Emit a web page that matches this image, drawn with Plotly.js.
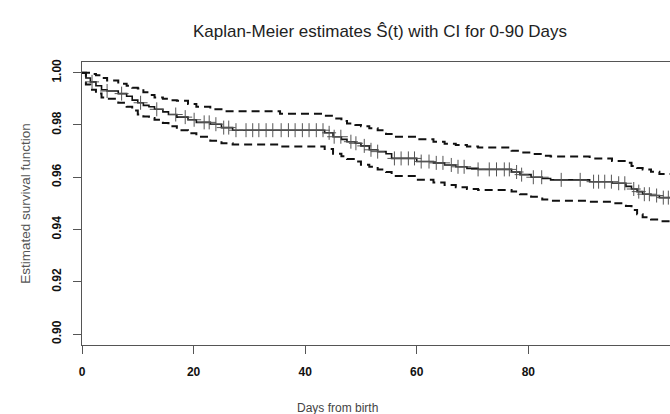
<!DOCTYPE html>
<html>
<head>
<meta charset="utf-8">
<script src="https://cdn.plot.ly/plotly-3.0.1.min.js"></script>
<style>html,body{margin:0;padding:0;background:#fff;}#chart{width:670px;height:414px;}</style>
</head>
<body>
<div id="chart"></div>
<script>
// Step times (days) and Kaplan-Meier estimate with confidence limits
var stepDays = [0, 0.7, 1.5, 2.5, 3.5, 4.5, 6.5, 8, 9, 10, 11, 12, 13, 14.5, 15.5, 17, 19, 20.5, 23, 25, 27, 35.5, 43.5, 45, 46.5, 47.5, 49, 50, 51.5, 53, 54.5, 55.5, 60, 63, 65, 67, 69, 71, 77, 78.5, 80.5, 82.5, 84, 91, 95, 97.5, 98.5, 99.5, 100.5, 102, 103.5, 105.7];
var survival = [1.000, 0.998, 0.9965, 0.995, 0.9935, 0.993, 0.992, 0.991, 0.9895, 0.9885, 0.9875, 0.987, 0.986, 0.985, 0.984, 0.983, 0.982, 0.981, 0.9803, 0.979, 0.978, 0.978, 0.977, 0.9755, 0.9745, 0.9736, 0.973, 0.972, 0.9705, 0.9698, 0.969, 0.9672, 0.966, 0.9655, 0.9647, 0.964, 0.9634, 0.963, 0.962, 0.961, 0.960, 0.9595, 0.959, 0.9583, 0.9577, 0.9565, 0.9555, 0.9545, 0.9535, 0.953, 0.9522, 0.9522];
var upperCI = [1.000, 1.000, 0.9995, 0.999, 0.998, 0.997, 0.9958, 0.995, 0.9942, 0.994, 0.9925, 0.9915, 0.9905, 0.990, 0.9895, 0.9893, 0.988, 0.987, 0.986, 0.9853, 0.9853, 0.9843, 0.9835, 0.9825, 0.9815, 0.9806, 0.980, 0.9795, 0.9787, 0.978, 0.9765, 0.9755, 0.9745, 0.9736, 0.9728, 0.9723, 0.9718, 0.9714, 0.9701, 0.9695, 0.9689, 0.9682, 0.9679, 0.9672, 0.9662, 0.9655, 0.9643, 0.9635, 0.963, 0.9621, 0.9612, 0.9612];
var lowerCI = [1.000, 0.9955, 0.9935, 0.992, 0.9905, 0.990, 0.9885, 0.987, 0.9855, 0.984, 0.9832, 0.9827, 0.982, 0.9808, 0.9795, 0.978, 0.9768, 0.9755, 0.974, 0.973, 0.9725, 0.9718, 0.9708, 0.969, 0.968, 0.967, 0.966, 0.9648, 0.964, 0.963, 0.962, 0.9605, 0.959, 0.958, 0.957, 0.9562, 0.9555, 0.9551, 0.9545, 0.9535, 0.9525, 0.9515, 0.951, 0.9506, 0.950, 0.949, 0.9475, 0.9458, 0.9447, 0.9438, 0.9432, 0.9432];
// Censoring times (days)
var censorDays = [1.8, 4.5, 7.1, 10.5, 13.4, 16.8, 18.5, 20.1, 21.9, 22.8, 24, 25.4, 26.3, 27.6, 29.4, 30.6, 31.7, 33.0, 34.2, 35.7, 37.0, 38.2, 39.5, 40.7, 42.0, 43.2, 44.3, 45.2, 46.4, 48.2, 49.1, 50.6, 51.8, 53, 56, 57.2, 58.5, 59.6, 60.8, 62.2, 63.5, 64.7, 66.2, 67.4, 68.5, 71.0, 73, 74.3, 75.7, 76.6, 77.9, 78.8, 80.9, 82.4, 85.9, 89.3, 91.7, 92.6, 93.7, 94.9, 96.2, 97.3, 98.9, 99.8, 100.8, 101.7, 103, 104.2, 105.1];
var xTicks = [0, 20, 40, 60, 80];
var yTicks = [0.90, 0.92, 0.94, 0.96, 0.98, 1.00];
var yTickText = ['0.90', '0.92', '0.94', '0.96', '0.98', '1.00'];

function survAt(t) {
  var v = survival[0];
  for (var i = 0; i < stepDays.length; i++) { if (stepDays[i] <= t) v = survival[i]; }
  return v;
}
var censorSurv = censorDays.map(survAt);

var dashPat = '8px,5px';
var traces = [
  {x: stepDays, y: upperCI, type: 'scatter', mode: 'lines', line: {shape: 'hv', color: '#111', width: 2, dash: dashPat}, hoverinfo: 'skip'},
  {x: stepDays, y: lowerCI, type: 'scatter', mode: 'lines', line: {shape: 'hv', color: '#111', width: 2, dash: dashPat}, hoverinfo: 'skip'},
  {x: stepDays, y: survival, type: 'scatter', mode: 'lines', line: {shape: 'hv', color: '#111', width: 1.6}},
  {x: censorDays, y: censorSurv, type: 'scatter', mode: 'markers', marker: {symbol: 'cross-thin-open', size: 10, color: '#555', line: {color: '#555', width: 1}}, cliponaxis: true}
];

var font = 'Liberation Sans, Arial, sans-serif';
var layout = {
  width: 670, height: 414,
  margin: {l: 82, r: 0, t: 62, b: 69},
  paper_bgcolor: '#fff', plot_bgcolor: '#fff',
  showlegend: false,
  font: {family: font, color: '#222'},
  title: {text: 'Kaplan-Meier estimates Ŝ(t) with CI for 0-90 Days', font: {family: font, size: 17, color: '#222'},
          xref: 'paper', x: (380 - 82) / 588, xanchor: 'center', yref: 'container', y: 1 - 31/414, yanchor: 'middle'},
  xaxis: {range: [0, 105.4], tickvals: xTicks, ticktext: xTicks.map(String), showgrid: false, zeroline: false,
          showline: true, linecolor: '#555', linewidth: 1, mirror: true,
          ticks: 'outside', ticklen: 8, tickcolor: '#555', tickwidth: 1, ticklabelstandoff: 8,
          tickfont: {family: font, size: 12, color: '#111', weight: 'bold'}},
  yaxis: {range: [0.8958, 1.0041], tickvals: yTicks, ticktext: yTickText, tickangle: -90, showgrid: false, zeroline: false,
          showline: true, linecolor: '#555', linewidth: 1,
          ticks: 'outside', ticklen: 8, tickcolor: '#555', tickwidth: 1, ticklabelstandoff: 7,
          tickfont: {family: font, size: 12, color: '#111', weight: 'bold'},
          title: {text: 'Estimated survival function', standoff: 16, font: {family: font, size: 13.5, color: '#555'}}},
  annotations: [
    {text: 'Days from birth', xref: 'paper', yref: 'paper', x: (337 - 82) / 588, y: -(408 - 345) / 283,
     xanchor: 'center', yanchor: 'middle', showarrow: false, font: {family: font, size: 12, color: '#444'}}
  ]
};
Plotly.newPlot('chart', traces, layout, {displayModeBar: false, staticPlot: true});
</script>
</body>
</html>
